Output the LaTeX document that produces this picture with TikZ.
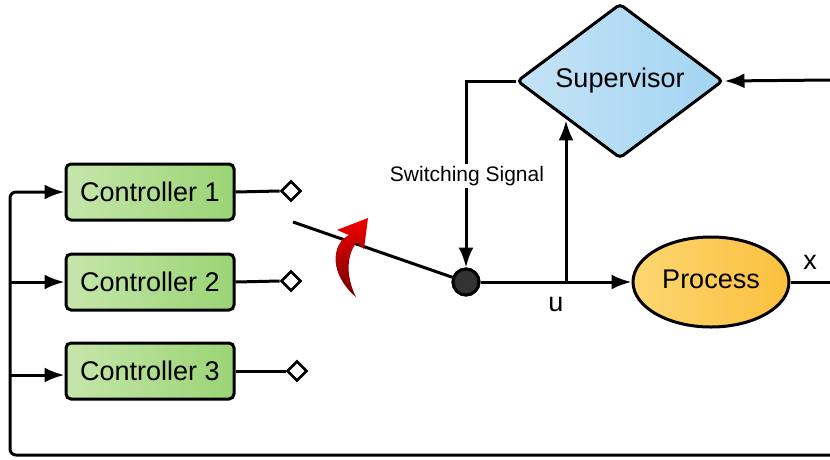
\documentclass[tikz,border=0pt]{standalone}
\usepackage{fontspec}
\setmainfont{Liberation Sans}
\usetikzlibrary{arrows.meta, positioning, shapes.geometric, calc}

\definecolor{ctrlL}{HTML}{C6E6AB}
\definecolor{ctrlR}{HTML}{9AD474}
\definecolor{supL}{HTML}{C4E3F6}
\definecolor{supR}{HTML}{A3D4F2}
\definecolor{procL}{HTML}{FDD672}
\definecolor{procR}{HTML}{FAC03E}

\begin{document}
\begin{tikzpicture}[x=1pt, y=-1pt, line width=3pt,
    ctrlbox/.style={draw, rounded corners=5pt, left color=ctrlL, right color=ctrlR,
        minimum width=168pt, minimum height=56pt, inner sep=0pt,
        font=\fontsize{27}{31}\selectfont},
    term/.style={draw, diamond, fill=white, line width=2.6pt, minimum width=20pt,
        minimum height=20pt, inner sep=0pt},
    arr/.style={-{Latex[length=20pt, width=15pt]}},
    lbl/.style={font=\fontsize{27}{31}\selectfont}]
        \useasboundingbox (0,0) rectangle (830,459);

        % Controllers (left column)
        \node[ctrlbox] (c1) at (150,192) {Controller 1};
        \node[ctrlbox] (c2) at (150,282) {Controller 2};
        \node[ctrlbox] (c3) at (150,371) {Controller 3};

        % Switch terminals
        \node[term] (t1) at (291,191) {};
        \node[term] (t2) at (291,281) {};
        \node[term] (t3) at (297,371) {};
        \draw (c1.east) -- (t1.west);
        \draw (c2.east) -- (t2.west);
        \draw (c3.east) -- (t3.west);

        % Switch blade and pivot
        \coordinate (blade) at (293,222);
        \node[circle, draw, fill=black!80, minimum size=26pt, inner sep=0pt] (sw) at (466,282) {};
        \draw (blade) -- (sw);
        \node[circle, draw, fill=black!80, minimum size=26pt, inner sep=0pt] at (sw) {};

        % Red switching arrow
        \shade[top color=red!95!black, bottom color=red!45!black, line width=0pt]
            (356,297) .. controls (330,275) and (330,245) .. (349,235)
            -- (337,230) -- (368,218) -- (364,249) -- (357,242)
            .. controls (347,254) and (345,275) .. (356,297) -- cycle;

        % Supervisor and process
        \node[diamond, draw, rounded corners=4pt, left color=supL, right color=supR,
            minimum width=206pt, minimum height=152pt, inner sep=0pt, lbl] (sup) at (620,81) {\raisebox{6pt}{Supervisor}};
        \node[ellipse, draw, left color=procL, right color=procR,
            minimum width=156pt, minimum height=90pt, inner sep=0pt, lbl] (proc) at (711,282) {\raisebox{5pt}{Process}};

        % Signal paths
        \coordinate (tap) at (566,282);
        \draw[arr] (sw) -- (proc.west);
        \draw[arr] (tap) -- (tap |- sup.south west);
        \node[lbl, below=10pt of tap, xshift=-10pt] (u) {u};
        \draw[arr] (sup.west) -| (sw.north);
        \node[fill=white, inner sep=2pt, font=\fontsize{21}{25}\selectfont] (sig) at (467,176) {Switching Signal};

        % Right edge and feedback loop
        \coordinate (out) at (830,282);
        \coordinate (rt) at (830,80);
        \draw (proc.east) -- (out);
        \node[lbl] (x) at (810,262) {x};
        \draw[arr] (rt) -- (sup.east);
        \coordinate (fbR) at (830,455);
        \coordinate (fbL) at (10,455);
        \draw[arr, rounded corners=6pt] (fbR) -- (fbL) -- (fbL |- c1.west) -- (c1.west);
        \draw[arr] (fbL |- c2.west) -- (c2.west);
        \draw[arr] ($(fbL |- c3.west)+(0,4)$) -- ($(c3.west)+(0,4)$);
\end{tikzpicture}
\end{document}
